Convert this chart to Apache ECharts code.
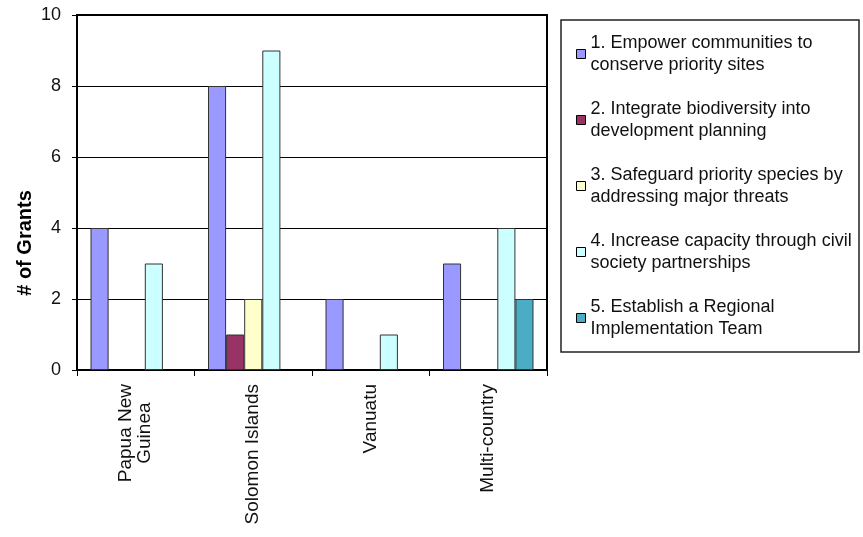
<!DOCTYPE html>
<html>
<head>
<meta charset="utf-8">
<script src="https://cdn.jsdelivr.net/npm/echarts@6/dist/echarts.min.js"></script>
<style>
  html, body { margin: 0; padding: 0; background: #fff; }
  #chart { width: 863px; height: 537px; }
</style>
</head>
<body>
<div id="chart"></div>
<script>
// categories and series values
var countries = ['Papua New\nGuinea', 'Solomon Islands', 'Vanuatu', 'Multi-country'];
var seriesNames = [
  '1. Empower communities to\nconserve priority sites',
  '2. Integrate biodiversity into\ndevelopment planning',
  '3. Safeguard priority species by\naddressing major threats',
  '4. Increase capacity through civil\nsociety partnerships',
  '5. Establish a Regional\nImplementation Team'
];
var empower = [4, 8, 2, 3];
var integrate = [0, 1, 0, 0];
var safeguard = [0, 2, 0, 0];
var capacity = [3, 9, 1, 4];
var regional = [0, 0, 0, 2];
var yTicks = [0, 2, 4, 6, 8, 10];

var colors = ['#9999FF', '#993366', '#FFFFCC', '#CCFFFF', '#4BACC6'];
var allValues = [empower, integrate, safeguard, capacity, regional];

var font = 'Arial, "Liberation Sans", sans-serif';

var chart = echarts.init(document.getElementById('chart'));

// zero bars are not drawn in the original, so skip them
var series = seriesNames.map(function (name, i) {
  return {
    name: name,
    type: 'bar',
    data: allValues[i].map(function (v) { return v === 0 ? '-' : v; }),
    barGap: 0,
    barCategoryGap: '23%',
    itemStyle: { color: colors[i], borderColor: '#333', borderWidth: 1 }
  };
});

chart.setOption({
  animation: false,
  color: colors,
  grid: {
    left: 77, right: 316, top: 15, bottom: 167,
    show: true, borderColor: '#000', borderWidth: 2, backgroundColor: 'transparent'
  },
  legend: {
    orient: 'vertical',
    left: 571,
    top: 16,
    itemGap: 0,
    itemWidth: 9,
    itemHeight: 9,
    icon: 'rect',
    selectedMode: false,
    itemStyle: { borderColor: '#000', borderWidth: 1 },
    textStyle: {
      fontFamily: font, fontSize: 18, color: '#111',
      lineHeight: 22, padding: [22, 0, 0, 0]
    },
    data: seriesNames
  },
  graphic: [
    {
      type: 'rect',
      shape: { x: 561, y: 20, width: 298, height: 332 },
      style: { fill: 'none', stroke: '#222', lineWidth: 1.5 },
      silent: true
    },
    {
      type: 'text',
      x: 25, y: 243,
      rotation: Math.PI / 2,
      style: {
        text: '# of Grants', font: 'bold 20px ' + font, fill: '#000',
        align: 'center', verticalAlign: 'middle'
      }
    }
  ],
  xAxis: {
    type: 'category',
    data: countries,
    axisLine: { lineStyle: { color: '#000', width: 2 } },
    axisTick: { show: true, length: 6, lineStyle: { color: '#000' } },
    axisLabel: {
      rotate: 90,
      margin: 14,
      fontFamily: font,
      fontSize: 19,
      color: '#111',
      interval: 0,
      formatter: function (v) {
        return v.split('\n').map(function (s) { return '{c|' + s + '}'; }).join('\n');
      },
      rich: { c: { align: 'center', fontFamily: font, fontSize: 19, color: '#111', lineHeight: 19 } }
    }
  },
  yAxis: {
    type: 'value',
    min: yTicks[0],
    max: yTicks[yTicks.length - 1],
    interval: 2,
    axisLine: { show: true, lineStyle: { color: '#000', width: 2 } },
    axisTick: { show: true, length: 5, lineStyle: { color: '#000' } },
    axisLabel: { margin: 16, fontFamily: font, fontSize: 18, color: '#111' },
    splitLine: { lineStyle: { color: '#000', width: 1 } }
  },
  series: series
});
</script>
</body>
</html>
